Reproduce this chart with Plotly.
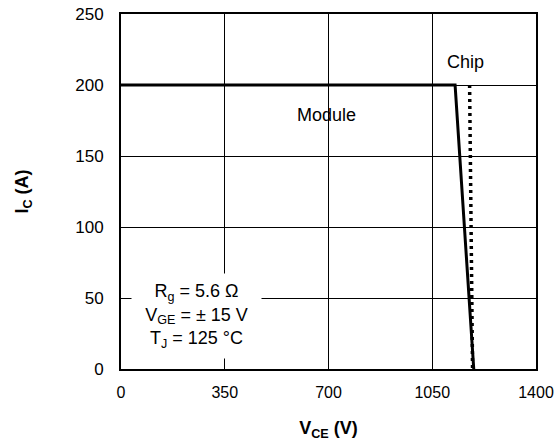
import plotly.graph_objects as go

module_v = [0, 1127, 1190]
module_i = [200, 200, 0]
chip_v = [1176, 1186]
chip_i = [200, 0]
x_ticks = [0, 350, 700, 1050, 1400]
y_ticks = [0, 50, 100, 150, 200, 250]

FONT = "Liberation Sans, Arial, Helvetica, sans-serif"

fig = go.Figure()
fig.add_trace(go.Scatter(x=module_v, y=module_i, mode="lines",
                         line=dict(color="black", width=3), showlegend=False))
fig.add_trace(go.Scatter(x=chip_v, y=chip_i, mode="lines",
                         line=dict(color="black", width=3.5, dash="3px,4px"), showlegend=False))

fig.add_annotation(x=1161, y=216, text="Chip", showarrow=False,
                   font=dict(size=18, color="black", family=FONT))
fig.add_annotation(x=693, y=179, text="Module", showarrow=False,
                   font=dict(size=18, color="black", family=FONT))
fig.add_annotation(x=256, y=37,
                   text="R<sub>g</sub> = 5.6 Ω<br>V<sub>GE</sub> = ± 15 V<br>T<sub>J</sub> = 125 °C",
                   showarrow=False, bgcolor="white", width=127, height=82, align="center",
                   font=dict(size=18, color="black", family=FONT))

fig.update_xaxes(range=[0, 1400], tickvals=x_ticks, showgrid=True, gridcolor="black", gridwidth=1,
                 zeroline=False, showline=True, linecolor="black", linewidth=2, mirror=True,
                 ticks="", ticklabelstandoff=8, automargin=False, ticklabeloverflow="allow",
                 tickfont=dict(size=16, color="black", family=FONT),
                 title=dict(text="<b>V<sub>CE</sub> (V)</b>", font=dict(size=18, color="black", family=FONT),
                            standoff=21))
fig.update_yaxes(range=[0, 250], tickvals=y_ticks, showgrid=True, gridcolor="black", gridwidth=1,
                 zeroline=False, showline=True, linecolor="black", linewidth=2, mirror=True,
                 ticks="", ticklabelstandoff=12, automargin=False, ticklabeloverflow="allow",
                 tickfont=dict(size=17, color="black", family=FONT),
                 title=dict(text="<b>I<sub>C</sub> (A)</b>", font=dict(size=18, color="black", family=FONT),
                            standoff=42))

fig.update_layout(width=554, height=446, margin=dict(l=121, r=18, t=14, b=77),
                  plot_bgcolor="white", paper_bgcolor="white")

fig.write_html("out.html")
